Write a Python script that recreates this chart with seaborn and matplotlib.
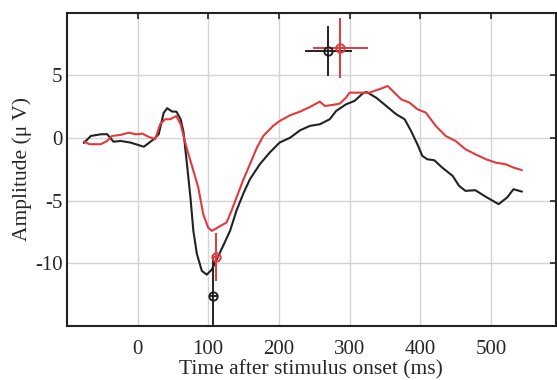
import numpy as np
import pandas as pd
import seaborn as sns
from matplotlib import pyplot as plt

sns.set_style("whitegrid")
plt.rcParams["font.family"] = ["Liberation Serif", "DejaVu Serif"]
plt.rcParams["axes.unicode_minus"] = False

# waveforms (ms, microvolt)
black_t = [-76, -66, -52, -43, -34, -24, -10, 9, 23, 30, 37, 42, 49, 55, 61, 65,
           70, 75, 79, 84, 91, 98, 105, 112, 122, 131, 140, 150, 159, 173, 187,
           201, 216, 230, 244, 258, 272, 281, 295, 307, 319, 324, 338, 352, 366,
           378, 387, 396, 403, 410, 420, 431, 446, 455, 464, 478, 493, 511, 523,
           532, 544]
black_v = [-0.4, 0.16, 0.29, 0.3, -0.3, -0.24, -0.37, -0.7, -0.1, 0.3, 2.0, 2.37,
           2.1, 2.1, 1.5, 0.5, -2.1, -4.8, -7.4, -9.25, -10.6, -10.9, -10.5,
           -9.7, -8.5, -7.4, -5.8, -4.4, -3.3, -2.1, -1.17, -0.37, 0.02, 0.61,
           0.96, 1.09, 1.49, 2.15, 2.68, 2.95, 3.56, 3.67, 3.2, 2.55, 1.89, 1.49,
           0.56, -0.5, -1.43, -1.7, -1.78, -2.36, -3.03, -3.82, -4.22, -4.17,
           -4.7, -5.28, -4.75, -4.09, -4.28]

red_t = [-76, -68, -52, -43, -36, -24, -12, -3, 7, 16, 25, 32, 39, 46, 55, 61,
         70, 79, 86, 93, 100, 105, 112, 119, 126, 133, 140, 150, 159, 169, 178,
         185, 192, 201, 216, 230, 244, 258, 265, 272, 286, 295, 300, 319, 328,
         342, 354, 361, 373, 385, 396, 408, 422, 436, 450, 464, 478, 493, 507,
         521, 532, 544]
red_v = [-0.29, -0.5, -0.5, -0.24, 0.16, 0.24, 0.42, 0.29, 0.34, 0.08, -0.1, 1.09,
         1.49, 1.49, 1.75, 1.09, -0.9, -2.6, -3.96, -6.08, -7.15, -7.41, -7.2,
         -6.96, -6.75, -5.8, -4.76, -3.3, -2.1, -0.77, 0.16, 0.56, 0.96, 1.35,
         1.81, 2.1, 2.47, 2.9, 2.55, 2.6, 2.73, 3.21, 3.61, 3.61, 3.61, 3.88,
         4.14, 3.75, 3.08, 2.81, 2.29, 2.02, 0.96, 0.16, -0.24, -0.9, -1.3,
         -1.7, -1.97, -2.1, -2.36, -2.57]

# peak latency / amplitude estimates with spread
peak_t = [270, 287, 107, 111]
peak_v = [6.95, 7.2, -12.6, -9.5]
peak_terr = [33, 39, 6, 5]
peak_verr = [2.0, 2.4, 3.3, 1.9]
peak_color = ["#222222", "#e23a3a", "#222222", "#e23a3a"]

df = pd.concat([
    pd.DataFrame({"t": black_t, "v": black_v, "cond": "black"}),
    pd.DataFrame({"t": red_t, "v": red_v, "cond": "red"}),
])

fig = plt.figure(figsize=(5.57, 3.8), dpi=100)
ax = fig.add_axes([0.12, 0.142, 0.878, 0.825])

sns.lineplot(ax=ax, data=df, x="t", y="v", hue="cond",
             palette={"black": "#222222", "red": "#e23a3a"},
             linewidth=1.5, legend=False, sort=False)

for t, v, te, ve, c in zip(peak_t, peak_v, peak_terr, peak_verr, peak_color):
    ax.errorbar(t, v, xerr=te, yerr=ve, fmt="o", color=c, mfc="none",
                ms=6, mew=1.4, elinewidth=1.4, capsize=0, zorder=5,
                clip_on=True)

ax.set_xlim(-100, 592)
ax.set_ylim(-15, 10)
ax.set_xticks([0, 100, 200, 300, 400, 500])
ax.set_yticks([-10, -5, 0, 5])
ax.grid(True, color="#d4d4d4", lw=1)
for s in ax.spines.values():
    s.set_color("#222222")
    s.set_linewidth(1.5)
ax.tick_params(direction="in", length=4, width=1.2, color="#222222",
               top=True, right=True, labelsize=15)
ax.tick_params(axis="x", pad=10)
ax.tick_params(axis="y", pad=3)
ax.set_xlabel("Time after stimulus onset (ms)", fontsize=15.5, labelpad=1)
ax.set_ylabel("Amplitude (μ V)", fontsize=15.5, labelpad=2)

fig.savefig("out.png", dpi=100)
